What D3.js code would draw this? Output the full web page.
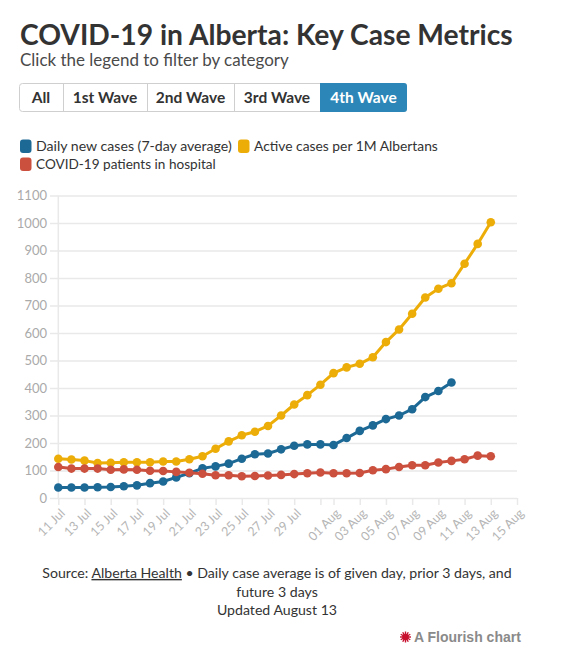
<!DOCTYPE html>
<html><head><meta charset="utf-8">
<script src="https://cdn.jsdelivr.net/npm/d3@7"></script>
<style>
body{margin:0;background:#fff;}
svg{display:block;font-family:Lato,"Open Sans",sans-serif;}
</style></head><body>
<svg id="c" width="567" height="663"></svg>
<script>
// ---------- data ----------
const dates = ["2021-07-11","2021-07-12","2021-07-13","2021-07-14","2021-07-15","2021-07-16","2021-07-17","2021-07-18","2021-07-19","2021-07-20","2021-07-21","2021-07-22","2021-07-23","2021-07-24","2021-07-25","2021-07-26","2021-07-27","2021-07-28","2021-07-29","2021-07-30","2021-07-31","2021-08-01","2021-08-02","2021-08-03","2021-08-04","2021-08-05","2021-08-06","2021-08-07","2021-08-08","2021-08-09","2021-08-10","2021-08-11","2021-08-12","2021-08-13"];
const dailyNewCases = [38,38,38,39,40,43,46,54,60,75,90,108,115,125,143,159,162,177,190,195,195,193,218,244,264,287,300,323,367,389,420];
const activePer1M = [143,140,136,127,128,130,130,130,133,133,141,152,179,206,228,241,262,300,340,374,412,454,475,488,512,567,613,670,729,761,781,852,924,1003];
const inHospital = [113,107,107,107,103,104,103,99,98,95,92,88,83,83,79,80,82,84,87,90,93,90,90,91,101,105,113,119,119,129,135,141,154,152];
const seriesNames = ["Daily new cases (7-day average)","Active cases per 1M Albertans","COVID-19 patients in hospital"];
const seriesColors = ["#1D6996","#EDAD08","#CC503E"];
const yTicks = [0,100,200,300,400,500,600,700,800,900,1000,1100];
const xTickDates = ["2021-07-11","2021-07-13","2021-07-15","2021-07-17","2021-07-19","2021-07-21","2021-07-23","2021-07-25","2021-07-27","2021-07-29","2021-07-31","2021-08-01","2021-08-03","2021-08-05","2021-08-07","2021-08-09","2021-08-11","2021-08-13","2021-08-15"];
const xTickLabels = ["11 Jul","13 Jul","15 Jul","17 Jul","19 Jul","21 Jul","23 Jul","25 Jul","27 Jul","29 Jul","","01 Aug","03 Aug","05 Aug","07 Aug","09 Aug","11 Aug","13 Aug","15 Aug"];
const buttons = ["All","1st Wave","2nd Wave","3rd Wave","4th Wave"];
const activeButton = "4th Wave";

// ---------- setup ----------
const parse = d3.timeParse("%Y-%m-%d");
const svg = d3.select("#c");
const ink = "#333";

function fit(sel, w){
  const l = sel.node().getComputedTextLength();
  const fs = parseFloat(sel.attr("font-size"));
  sel.attr("font-size", fs * w / l);
  return fs * w / l;
}

// title & subtitle
const title = svg.append("text").attr("x",20).attr("y",45).attr("font-size",30).attr("font-weight",700).attr("fill",ink)
  .text("COVID-19 in Alberta: Key Case Metrics");
fit(title, 493);
const sub = svg.append("text").attr("x",20).attr("y",66).attr("font-size",18).attr("fill","#4a4a4a")
  .text("Click the legend to filter by category");
fit(sub, 269);

// buttons
const btnEdges = [19,63,147,234,320,407];
const bTop = 83, bH = 29;
const bg = svg.append("g");
bg.append("rect").attr("x",btnEdges[0]+0.5).attr("y",bTop+0.5).attr("width",btnEdges[5]-btnEdges[0]-1).attr("height",bH-1)
  .attr("rx",3).attr("fill","#fff").attr("stroke","#cfcfcf");
buttons.forEach((b,i)=>{
  const x0 = btnEdges[i], x1 = btnEdges[i+1];
  const act = b === activeButton;
  if(act){
    bg.append("rect").attr("x",x0).attr("y",bTop).attr("width",x1-x0).attr("height",bH).attr("rx",3).attr("fill","#2c87b8");
    bg.append("rect").attr("x",x0).attr("y",bTop).attr("width",6).attr("height",bH).attr("fill","#2c87b8");
  } else if(i>0){
    bg.append("line").attr("x1",x0+0.5).attr("x2",x0+0.5).attr("y1",bTop).attr("y2",bTop+bH).attr("stroke","#cfcfcf");
  }
  bg.append("text").attr("x",(x0+x1)/2).attr("y",bTop+bH/2).attr("dy","0.35em").attr("text-anchor","middle")
    .attr("font-size",15.5).attr("font-weight",700).attr("fill",act?"#fff":ink).text(b);
});

// legend
const legendPos = [[20,146],[238,146],[20,164]];
const legendW = [196,184,180];
seriesNames.forEach((n,i)=>{
  const [lx,ly] = legendPos[i];
  svg.append("rect").attr("x",lx).attr("y",ly-6.5).attr("width",11.5).attr("height",13.5).attr("rx",3).attr("fill",seriesColors[i]);
  const t = svg.append("text").attr("x",lx+16).attr("y",ly).attr("dy","0.35em").attr("font-size",14.5).attr("fill",ink).text(n);
  fit(t, legendW[i]);
});

// ---------- chart ----------
const x = d3.scaleTime().domain([parse(xTickDates[0]), parse(xTickDates[xTickDates.length-1])]).range([58.3, 517]);
const y = d3.scaleLinear().domain([0,1100]).range([498, 195.5]);
const gridColor = "#e9e9e9";

const yAxis = svg.append("g").attr("transform","translate(50,0)")
  .call(d3.axisLeft(y).tickValues(yTicks).tickSize(-467).tickPadding(3).tickFormat(d3.format("d")));
yAxis.select(".domain").remove();
yAxis.selectAll(".tick line").attr("stroke",gridColor).attr("stroke-width",1.5);
yAxis.selectAll(".tick text").attr("fill","#aaa").attr("font-size",13).attr("font-family","Lato,sans-serif");

// vertical axis line
svg.append("line").attr("x1",x(parse(dates[0]))).attr("x2",x(parse(dates[0]))).attr("y1",y(1100)).attr("y2",y(0))
  .attr("stroke",gridColor).attr("stroke-width",1.5);

const xAxis = svg.append("g").attr("transform",`translate(0,${y(0)})`)
  .call(d3.axisBottom(x).tickValues(xTickDates.map(parse)).tickSize(7).tickFormat((d,i)=>xTickLabels[i]));
xAxis.select(".domain").remove();
xAxis.selectAll(".tick line").attr("stroke",gridColor).attr("stroke-width",1.5);
xAxis.selectAll(".tick text").attr("fill","#b5b5b5").attr("font-size",12.5).attr("font-family","Lato,sans-serif")
  .attr("y",0).attr("dy","0.35em").attr("text-anchor","end").attr("transform","translate(4,13) rotate(-45)");

// lines
const allSeries = [dailyNewCases, activePer1M, inHospital];
const line = d3.line().x(d=>x(d.date)).y(d=>y(d.v));
allSeries.forEach((vals,i)=>{
  const pts = vals.map((v,j)=>({date:parse(dates[j]), v}));
  const g = svg.append("g");
  g.append("path").datum(pts).attr("d",line).attr("fill","none").attr("stroke",seriesColors[i]).attr("stroke-width",3).attr("stroke-linejoin","round");
  g.selectAll("circle").data(pts).join("circle").attr("cx",d=>x(d.date)).attr("cy",d=>y(d.v)).attr("r",4.3).attr("fill",seriesColors[i]);
});

// ---------- footer ----------
const f1 = svg.append("text").attr("x",277).attr("y",573).attr("dy","0.35em").attr("text-anchor","middle").attr("font-size",14.5).attr("fill",ink);
f1.append("tspan").text("Source: ");
f1.append("tspan").attr("text-decoration","underline").text("Alberta Health");
f1.append("tspan").text(" • Daily case average is of given day, prior 3 days, and");
const ffs = fit(f1, 470);
svg.append("text").attr("x",277).attr("y",592).attr("dy","0.35em").attr("text-anchor","middle").attr("font-size",ffs).attr("fill",ink).text("future 3 days");
svg.append("text").attr("x",277).attr("y",610.5).attr("dy","0.35em").attr("text-anchor","middle").attr("font-size",ffs).attr("fill",ink).text("Updated August 13");

// Flourish credit
const logo = svg.append("g").attr("transform","translate(405.5,637)");
d3.range(12).forEach(k=>{
  const a = k*Math.PI/6;
  logo.append("line").attr("x1",0).attr("y1",0).attr("x2",5.5*Math.cos(a)).attr("y2",5.5*Math.sin(a)).attr("stroke","#c8102e").attr("stroke-width",1.4);
});
logo.append("circle").attr("r",3.3).attr("fill","#c8102e");
svg.append("text").attr("x",414).attr("y",637).attr("dy","0.35em").attr("font-size",14)
  .attr("font-weight",700).attr("font-family","Liberation Sans,Arial,sans-serif").attr("fill","#8a8a8a").text("A Flourish chart");
</script>
</body></html>
